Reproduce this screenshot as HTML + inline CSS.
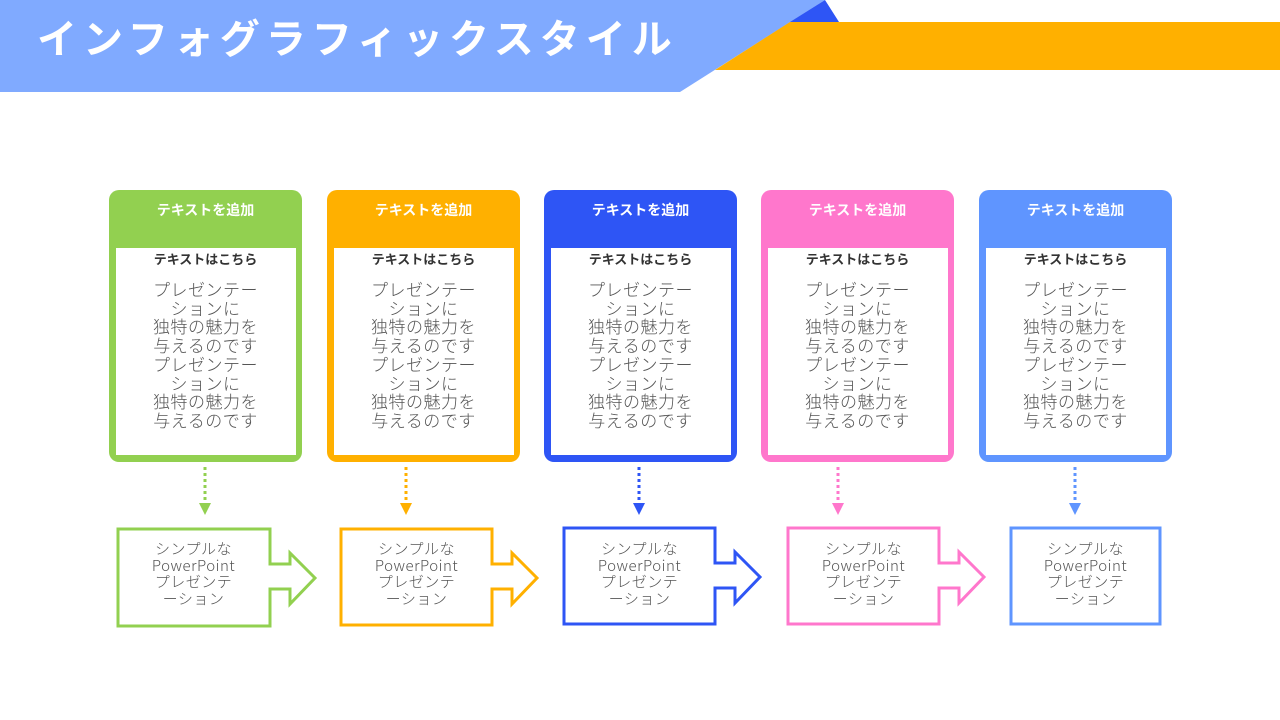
<!DOCTYPE html>
<html><head><meta charset="utf-8">
<style>
body{margin:0;width:1280px;height:720px;overflow:hidden;background:#fff;position:relative;font-family:"Liberation Sans","Noto Sans CJK JP",sans-serif;}
svg{position:absolute;left:0;top:0}
.t{position:absolute;text-align:center;white-space:nowrap}
.title{left:37px;top:14px;font-size:40px;font-weight:bold;color:#fff;letter-spacing:6px;line-height:52px}
.h{font-size:14px;font-weight:bold;color:#fff;width:193px;top:200px;line-height:20px}
.s{font-size:13px;font-weight:bold;color:#333;width:193px;top:251px;line-height:18px}
.b{font-size:17px;font-weight:300;color:#555;width:193px;top:282px;line-height:18.7px;letter-spacing:0.5px}
.a{font-size:15px;font-weight:300;color:#555;width:151px;top:541px;line-height:16.5px;letter-spacing:0.5px;font-family:"Noto Sans CJK JP",sans-serif}
</style></head><body>
<svg width="1280" height="720">
<polygon points="0,0 825,0 680,92 0,92" fill="#80aaff"/>
<polygon points="825,0 790,22 839,22" fill="#2e55f5"/>
<polygon points="790,22 1280,22 1280,70 715,70" fill="#ffb000"/>
<rect x="109" y="190" width="193" height="272" rx="10" fill="#92d050"/><rect x="116" y="248" width="180" height="207" fill="#fff"/>
<rect x="327" y="190" width="193" height="272" rx="10" fill="#ffb000"/><rect x="334" y="248" width="180" height="207" fill="#fff"/>
<rect x="544" y="190" width="193" height="272" rx="10" fill="#2e55f5"/><rect x="551" y="248" width="180" height="207" fill="#fff"/>
<rect x="761" y="190" width="193" height="272" rx="10" fill="#ff77cc"/><rect x="768" y="248" width="180" height="207" fill="#fff"/>
<rect x="979" y="190" width="193" height="272" rx="10" fill="#5f95ff"/><rect x="986" y="248" width="180" height="207" fill="#fff"/>
<g stroke-width="3" stroke-dasharray="3,3">
<line x1="205" y1="467" x2="205" y2="503" stroke="#92d050"/>
<line x1="406" y1="467" x2="406" y2="503" stroke="#ffb000"/>
<line x1="639" y1="467" x2="639" y2="503" stroke="#2e55f5"/>
<line x1="838" y1="467" x2="838" y2="503" stroke="#ff77cc"/>
<line x1="1075" y1="467" x2="1075" y2="503" stroke="#5f95ff"/>
</g>
<polygon points="199,503 211,503 205,515" fill="#92d050"/>
<polygon points="400,503 412,503 406,515" fill="#ffb000"/>
<polygon points="633,503 645,503 639,515" fill="#2e55f5"/>
<polygon points="832,503 844,503 838,515" fill="#ff77cc"/>
<polygon points="1069,503 1081,503 1075,515" fill="#5f95ff"/>
<g fill="#fff" stroke-width="3">
<polygon transform="translate(118,1)" stroke="#92d050" points="0,528 152,528 152,563 172,563 172,552 197,577 172,603 172,588 152,588 152,625 0,625"/>
<polygon transform="translate(341,1)" stroke="#ffb000" points="0,528 151,528 151,563 171,563 171,552 196,577 171,603 171,588 151,588 151,624 0,624"/>
<polygon transform="translate(564,0)" stroke="#2e55f5" points="0,528 151,528 151,563 171,563 171,552 196,577 171,603 171,588 151,588 151,624 0,624"/>
<polygon transform="translate(788,0)" stroke="#ff77cc" points="0,528 151,528 151,563 171,563 171,552 196,577 171,603 171,588 151,588 151,624 0,624"/>
<rect x="1011" y="528" width="149" height="96" stroke="#5f95ff"/>
</g>
</svg>
<div class="t title">インフォグラフィックスタイル</div>

<div class="t h" style="left:109px">テキストを追加</div>
<div class="t h" style="left:327px">テキストを追加</div>
<div class="t h" style="left:544px">テキストを追加</div>
<div class="t h" style="left:761px">テキストを追加</div>
<div class="t h" style="left:979px">テキストを追加</div>

<div class="t s" style="left:109px">テキストはこちら</div>
<div class="t s" style="left:327px">テキストはこちら</div>
<div class="t s" style="left:544px">テキストはこちら</div>
<div class="t s" style="left:761px">テキストはこちら</div>
<div class="t s" style="left:979px">テキストはこちら</div>

<div class="t b" style="left:109px">プレゼンテー<br>ションに<br>独特の魅力を<br>与えるのです<br>プレゼンテー<br>ションに<br>独特の魅力を<br>与えるのです</div>
<div class="t b" style="left:327px">プレゼンテー<br>ションに<br>独特の魅力を<br>与えるのです<br>プレゼンテー<br>ションに<br>独特の魅力を<br>与えるのです</div>
<div class="t b" style="left:544px">プレゼンテー<br>ションに<br>独特の魅力を<br>与えるのです<br>プレゼンテー<br>ションに<br>独特の魅力を<br>与えるのです</div>
<div class="t b" style="left:761px">プレゼンテー<br>ションに<br>独特の魅力を<br>与えるのです<br>プレゼンテー<br>ションに<br>独特の魅力を<br>与えるのです</div>
<div class="t b" style="left:979px">プレゼンテー<br>ションに<br>独特の魅力を<br>与えるのです<br>プレゼンテー<br>ションに<br>独特の魅力を<br>与えるのです</div>

<div class="t a" style="left:118px">シンプルな<br>PowerPoint<br>プレゼンテ<br>ーション</div>
<div class="t a" style="left:341px">シンプルな<br>PowerPoint<br>プレゼンテ<br>ーション</div>
<div class="t a" style="left:564px">シンプルな<br>PowerPoint<br>プレゼンテ<br>ーション</div>
<div class="t a" style="left:788px">シンプルな<br>PowerPoint<br>プレゼンテ<br>ーション</div>
<div class="t a" style="left:1010px">シンプルな<br>PowerPoint<br>プレゼンテ<br>ーション</div>
</body></html>
